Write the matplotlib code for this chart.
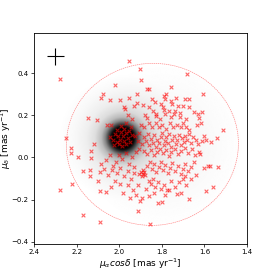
import numpy as np
import matplotlib
matplotlib.use("Agg")
import matplotlib.pyplot as plt
from matplotlib.patches import Ellipse

# proper motions of field stars
pm_ra = [1.955, 1.903, 1.681, 2.277, 1.897, 2.020, 1.755, 1.868, 1.861, 1.778, 2.075, 2.087, 1.605, 1.791, 1.784,
         1.731, 1.689, 1.672, 1.917,
         2.042, 1.994, 1.953, 1.916, 1.848, 1.833, 1.805, 1.758, 1.750, 1.722, 1.700, 1.673, 1.975, 1.972, 1.928,
         1.888, 1.862, 1.841, 1.794, 1.791, 1.767, 1.737, 1.716, 1.648, 1.613,
         2.148, 2.103, 2.059, 2.037, 1.957, 1.938, 1.878, 1.870, 1.827, 1.825, 1.806, 1.786, 1.755, 1.744, 1.716,
         1.688, 1.630, 1.625,
         1.966, 1.990, 1.978, 1.944, 1.898, 1.883, 1.859, 1.844, 1.825, 1.812, 1.797, 1.781, 1.763, 1.747, 1.730,
         1.711, 1.698, 1.684, 1.670, 1.636, 1.616, 1.511, 1.542, 1.569,
         2.250, 2.116, 2.227, 2.227, 2.195, 2.130, 2.134,
         2.020, 2.005, 1.992, 1.980, 1.967, 2.030, 2.012, 1.995, 1.978, 1.960, 2.000, 1.985, 1.970, 2.025, 1.950,
         1.940, 2.045, 1.955, 2.010,
         1.925, 1.912, 1.905, 1.893, 1.885, 1.875, 1.866, 1.858, 1.850, 1.842, 1.835, 1.828, 1.820, 1.812, 1.805,
         1.798, 1.790, 1.785, 1.778, 1.770, 1.765, 1.757, 1.750, 1.742, 1.735, 1.728, 1.720, 1.712, 1.705, 1.697,
         1.690, 1.680, 1.672, 1.662, 1.655, 1.640, 1.628, 1.612, 1.600, 1.590, 1.905, 1.885, 1.870, 1.852, 1.838,
         1.822, 1.808, 1.795, 1.780, 1.768, 1.755, 1.740, 1.725, 1.708, 1.690, 1.675, 1.660, 1.645, 1.625, 1.620,
         1.600, 1.585, 1.575, 1.535, 1.560, 1.590,
         2.087, 2.060, 2.045, 2.030, 2.015, 2.000, 1.985, 1.970, 1.955, 1.940, 1.930, 1.920, 2.090, 2.070, 2.050,
         2.035, 2.010, 1.995, 1.975, 1.960, 1.945, 1.930, 2.090, 2.060, 2.040, 2.020, 1.998, 1.980, 1.960, 1.950,
         1.935, 1.920, 1.910, 1.900, 1.893, 1.910, 2.090, 1.855, 2.277, 2.169, 2.220, 2.170, 2.137, 2.137, 2.100,
         1.898, 1.890, 1.882, 1.895, 1.878, 1.905, 1.886,
         1.870, 1.855, 1.845, 1.835, 1.825, 1.815, 1.805, 1.795, 1.785, 1.770, 1.760, 1.750, 1.738, 1.725, 1.712,
         1.700, 1.690, 1.678, 1.665, 1.650, 1.860, 1.850, 1.840, 1.830, 1.818, 1.805, 1.790, 1.775, 1.768, 1.755,
         1.740, 1.720, 1.710, 1.700, 1.685, 1.672, 1.835, 1.818, 1.800, 1.785, 1.728, 1.690, 1.665, 1.640, 1.860,
         1.872]
pm_dec = [0.457, 0.420, 0.397, 0.373, 0.368, 0.345, 0.333, 0.323, 0.323, 0.300, 0.300, 0.280, 0.302, 0.290, 0.276,
          0.281, 0.279, 0.278, 0.300,
          0.270, 0.274, 0.280, 0.258, 0.279, 0.265, 0.254, 0.268, 0.254, 0.246, 0.246, 0.238, 0.240, 0.230, 0.242,
          0.249, 0.240, 0.219, 0.240, 0.226, 0.218, 0.219, 0.210, 0.216, 0.216,
          0.187, 0.179, 0.156, 0.152, 0.201, 0.182, 0.203, 0.188, 0.208, 0.196, 0.183, 0.207, 0.191, 0.204, 0.191,
          0.183, 0.207, 0.187,
          0.162, 0.147, 0.134, 0.145, 0.156, 0.142, 0.162, 0.142, 0.162, 0.142, 0.156, 0.134, 0.165, 0.142, 0.154,
          0.145, 0.164, 0.142, 0.132, 0.156, 0.165, 0.132, 0.091, 0.073,
          0.092, 0.065, 0.045, 0.022, 0.000, 0.029, -0.004,
          0.112, 0.100, 0.121, 0.104, 0.114, 0.085, 0.075, 0.085, 0.080, 0.092, 0.062, 0.055, 0.066, 0.058, 0.075,
          0.105, 0.098, 0.125, 0.130,
          0.100, 0.078, 0.115, 0.062, 0.095, 0.080, 0.112, 0.060, 0.088, 0.070, 0.105, 0.050, 0.082, 0.068, 0.098,
          0.115, 0.058, 0.080, 0.096, 0.070, 0.110, 0.050, 0.085, 0.100, 0.066, 0.083, 0.108, 0.058, 0.090, 0.075,
          0.100, 0.085, 0.110, 0.070, 0.095, 0.082, 0.065, 0.080, 0.100, 0.085, 0.040, 0.030, 0.018, 0.035, 0.010,
          0.025, 0.040, 0.020, 0.035, 0.005, 0.025, 0.040, 0.015, 0.030, 0.045, 0.020, 0.040, 0.010, 0.025, 0.014,
          -0.050, -0.040, -0.042, -0.043, -0.140, -0.160,
          -0.029, -0.010, 0.012, -0.040, -0.020, 0.010, -0.005, 0.020, -0.030, 0.000, -0.045, 0.025, -0.070, -0.055,
          -0.085, -0.060, -0.075, -0.050, -0.090, -0.065, -0.100, -0.075, -0.157, -0.165, -0.140, -0.110, -0.125,
          -0.170, -0.130, -0.190, -0.155, -0.180, -0.130, -0.205, -0.190, -0.255, -0.304, -0.315, -0.155, -0.271,
          -0.124, -0.065, -0.058, -0.086, -0.110,
          -0.070, -0.080, -0.068, -0.088, -0.085, -0.078, -0.060,
          -0.040, -0.020, -0.055, -0.030, -0.070, -0.045, -0.020, -0.060, -0.035, -0.075, -0.050, -0.025, -0.065,
          -0.040, -0.080, -0.055, -0.030, -0.065, -0.045, -0.020, -0.110, -0.125, -0.100, -0.140, -0.115, -0.150,
          -0.130, -0.155, -0.155, -0.110, -0.140, -0.115, -0.170, -0.100, -0.130, -0.195, -0.170, -0.215, -0.210,
          -0.180, -0.175, -0.090, -0.100, -0.085, -0.185, -0.150]

# cluster density: centre and radial profile (darkness vs radius)
blob_center = (1.986, 0.092)
blob_r = [0.0, 0.042, 0.055, 0.068, 0.082, 0.100, 0.130, 0.170, 0.230, 0.300]
blob_level = [1.0, 1.0, 0.92, 0.70, 0.45, 0.25, 0.12, 0.06, 0.025, 0.0]
# faint field halo
field_center = (1.80, 0.06)
field_r = [0.0, 0.15, 0.30, 0.40]
field_level = [0.05, 0.035, 0.012, 0.0]

# selection ellipse
ell_center = (1.844, 0.062)
ell_width = 0.808
ell_height = 0.768
ell_angle = -5

# typical error
err_pos = (2.30, 0.48)
err_size = (0.04, 0.04)

fig = plt.figure(figsize=(2.57, 2.75), dpi=100)
ax = fig.add_axes([0.132, 0.113, 0.829, 0.767])

gx = np.linspace(2.4, 1.4, 300)
gy = np.linspace(-0.41, 0.59, 300)
X, Y = np.meshgrid(gx, gy)
R1 = np.hypot(X - blob_center[0], Y - blob_center[1])
R2 = np.hypot(X - field_center[0], Y - field_center[1])
img = np.interp(R1, blob_r, blob_level) + np.interp(R2, field_r, field_level)
ax.imshow(img, extent=[2.4, 1.4, -0.41, 0.59], origin='lower', cmap='gray_r',
          vmin=0, vmax=1, aspect='auto', interpolation='bilinear', zorder=0)

ax.scatter(pm_ra, pm_dec, marker='x', s=7, c='red', alpha=0.6, linewidths=0.8, zorder=2)

ax.add_patch(Ellipse(ell_center, ell_width, ell_height, angle=ell_angle, fill=False,
                     ec='red', lw=0.5, ls=(0, (2, 1)), alpha=0.45, zorder=3))

ax.errorbar([err_pos[0]], [err_pos[1]], xerr=[err_size[0]], yerr=[err_size[1]],
            fmt='none', ecolor='black', elinewidth=0.8, capsize=0, zorder=4)

ax.set_xlim(2.4, 1.4)
ax.set_ylim(-0.41, 0.59)
ax.set_xticks([2.4, 2.2, 2.0, 1.8, 1.6, 1.4])
ax.set_yticks([-0.4, -0.2, 0.0, 0.2, 0.4])
ax.tick_params(labelsize=5, length=2.5, width=0.5, pad=1.5)
for sp in ax.spines.values():
    sp.set_linewidth(0.6)
ax.set_xlabel(r'$\mu_{\alpha} cos\delta$ [mas yr$^{-1}$]', fontsize=6.5, labelpad=1)
ax.set_ylabel(r'$\mu_{\delta}$ [mas yr$^{-1}$]', fontsize=6.5)
ax.yaxis.set_label_coords(-0.098, 0.5)

fig.savefig('out.png', dpi=100)
